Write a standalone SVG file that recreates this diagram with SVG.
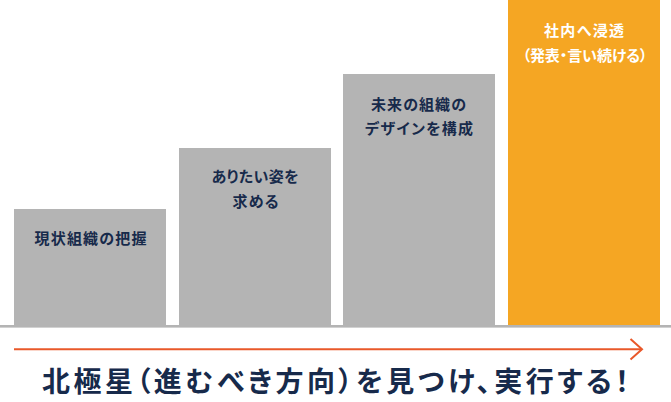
<svg xmlns="http://www.w3.org/2000/svg" width="671" height="402" viewBox="0 0 671 402">
<style>
.bar{fill:#b4b4b4}
.lbl{font-family:"Noto Sans CJK JP","Noto Sans",sans-serif;font-weight:700;font-size:15px;fill:#172a4b;text-anchor:middle;font-feature-settings:"palt"}
.wh{fill:#ffffff}
.title{font-family:"Noto Sans CJK JP","Noto Sans",sans-serif;font-weight:700;font-size:28px;fill:#172a4b;font-feature-settings:"palt"}
</style>
<rect width="671" height="402" fill="#ffffff"/>
<g id="step1">
<rect class="bar" x="14" y="209" width="152" height="117"/>
<text class="lbl" x="90.5" y="243.5" textLength="112" lengthAdjust="spacing">現状組織の把握</text>
</g>
<g id="step2">
<rect class="bar" x="179" y="148" width="152" height="178"/>
<text class="lbl" x="255" y="182" textLength="87" lengthAdjust="spacing">ありたい姿を</text>
<text class="lbl" x="255.5" y="207" textLength="46" lengthAdjust="spacing">求める</text>
</g>
<g id="step3">
<rect class="bar" x="343" y="74" width="152" height="252"/>
<text class="lbl" x="418.5" y="110" textLength="95" lengthAdjust="spacing">未来の組織の</text>
<text class="lbl" x="419" y="133.5" textLength="108" lengthAdjust="spacing">デザインを構成</text>
</g>
<g id="step4">
<rect x="508" y="0" width="152" height="326" fill="#f5a623"/>
<text class="lbl wh" x="584" y="35.5" textLength="80" lengthAdjust="spacing">社内へ浸透</text>
<text class="lbl wh" x="585" y="60.5" textLength="125" lengthAdjust="spacing">（発表・言い続ける）</text>
</g>
<g id="connectors">
<rect x="0" y="325" width="671" height="2.6" fill="#b4b4b4"/>
<line x1="14" y1="349.3" x2="642" y2="349.3" stroke="#e9582a" stroke-width="2"/>
<polyline points="630.5,339 642,349.3 630.5,359.5" fill="none" stroke="#e9582a" stroke-width="2"/>
</g>
<g id="title">
<text class="title" x="42" y="392" textLength="587" lengthAdjust="spacing">北極星（進むべき方向）を見つけ、実行する！</text>
</g>
</svg>
